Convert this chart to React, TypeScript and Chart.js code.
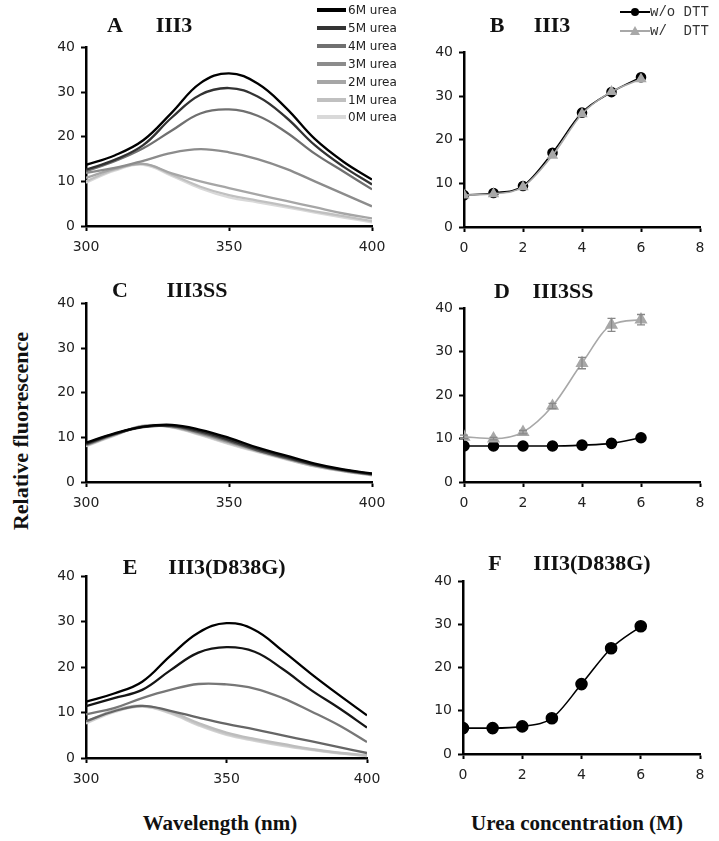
import React, { useEffect, useRef } from "react";
import { Chart, registerables } from "chart.js";
Chart.register(...registerables);

// ---------- data ----------
const wavelengths = [300, 310, 320, 330, 340, 350, 360, 370, 380, 390, 400];
const ureaNames = ["6M urea", "5M urea", "4M urea", "3M urea", "2M urea", "1M urea", "0M urea"];
const ureaConc = [0, 1, 2, 3, 4, 5, 6];

// Panel A (III3) spectra
const a6M = [13.7, 15.8, 19.2, 25.4, 32.0, 34.2, 31.9, 26.4, 19.5, 14.4, 10.4];
const a5M = [12.6, 14.8, 18.1, 24.3, 29.4, 30.9, 29.0, 24.3, 18.1, 13.3, 9.3];
const a4M = [12.3, 14.5, 17.4, 21.4, 25.2, 26.1, 24.7, 21.0, 16.2, 12.2, 8.2];
const a3M = [11.9, 13.0, 14.6, 16.4, 17.2, 16.5, 15.0, 12.8, 10.0, 7.2, 4.4];
const a2M = [10.8, 12.8, 13.9, 11.8, 10.0, 8.5, 7.0, 5.6, 4.2, 2.8, 1.7];
const a1M = [10.0, 12.6, 13.9, 11.5, 8.8, 6.9, 5.7, 4.5, 3.3, 2.2, 1.1];
const a0M = [9.7, 12.4, 13.7, 11.2, 8.4, 6.4, 5.3, 4.2, 3.0, 1.9, 0.8];

// Panel C (III3SS) spectra
const c6M = [8.8, 10.9, 12.4, 12.8, 11.7, 9.9, 7.7, 5.9, 4.1, 2.8, 1.9];
const c5M = [8.6, 10.8, 12.3, 12.6, 11.4, 9.5, 7.4, 5.6, 3.9, 2.7, 1.8];
const c4M = [8.4, 10.7, 12.4, 12.5, 11.1, 9.2, 7.1, 5.4, 3.8, 2.6, 1.7];
const c3M = [8.3, 10.6, 12.5, 12.4, 10.9, 9.0, 7.0, 5.3, 3.7, 2.5, 1.6];
const c2M = [8.2, 10.5, 12.5, 12.3, 10.7, 8.8, 6.9, 5.2, 3.6, 2.5, 1.6];
const c1M = [8.1, 10.5, 12.6, 12.3, 10.6, 8.6, 6.8, 5.1, 3.5, 2.4, 1.5];
const c0M = [8.0, 10.4, 12.6, 12.2, 10.5, 8.5, 6.7, 5.0, 3.5, 2.4, 1.5];

// Panel E (III3(D838G)) spectra
const e6M = [12.4, 14.2, 16.8, 22.5, 27.6, 29.7, 28.2, 23.6, 18.6, 13.9, 9.4];
const e5M = [11.4, 13.2, 15.0, 19.3, 23.2, 24.4, 23.4, 19.6, 15.0, 11.0, 6.7];
const e4M = [9.6, 11.0, 13.2, 15.0, 16.3, 16.2, 15.3, 13.2, 10.3, 7.2, 3.5];
const e3M = [8.1, 10.3, 11.5, 10.4, 8.9, 7.5, 6.3, 5.0, 3.7, 2.4, 1.1];
const e2M = [8.0, 10.5, 11.5, 10.2, 7.7, 5.6, 4.2, 3.1, 2.0, 1.2, 0.6];
const e1M = [7.8, 10.3, 11.4, 10.0, 7.4, 5.3, 4.0, 2.9, 1.9, 1.1, 0.5];
const e0M = [7.6, 10.1, 11.3, 9.8, 7.2, 5.1, 3.8, 2.7, 1.8, 1.0, 0.4];

// Panel B (III3) urea titration
const bNoDTT = [7.3, 7.8, 9.4, 17.0, 26.2, 30.9, 34.3];
const bDTT = [7.3, 7.6, 9.2, 16.4, 25.9, 31.0, 33.9];

// Panel D (III3SS) urea titration
const dNoDTT = [8.3, 8.3, 8.3, 8.3, 8.5, 8.9, 10.2];
const dDTT = [10.4, 10.0, 11.5, 17.5, 27.4, 36.2, 37.4];
const dDTTErr = [0.4, 0.3, 0.4, 0.6, 1.3, 1.5, 1.2];

// Panel F (III3(D838G)) urea titration
const fNoDTT = [6.0, 6.0, 6.4, 8.3, 16.2, 24.5, 29.6];

// ---------- styling ----------
const paletteA = ["#000000", "#333333", "#707070", "#8c8c8c", "#a6a6a6", "#c0c0c0", "#d9d9d9"];
const paletteC = ["#000000", "#2a2a2a", "#555555", "#8a8a8a", "#b0b0b0", "#c8c8c8", "#dcdcdc"];
const paletteE = ["#000000", "#151515", "#777777", "#666666", "#bdbdbd", "#c8c8c8", "#d4d4d4"];

const tickFont = { family: "'DejaVu Sans', Verdana, sans-serif", size: 14 };
const serif = "'Liberation Serif', 'Times New Roman', serif";

function spectraSets(series: number[][], palette: string[]) {
  return series.map((s, i) => ({
    label: ureaNames[i],
    data: s.map((v, j) => ({ x: wavelengths[j], y: v })),
    borderColor: palette[i],
    borderWidth: 2.3,
    pointRadius: 0,
    tension: 0.4,
    fill: false,
  }));
}

function titrationSet(vals: number[], color: string, lineColor: string, style: string, r: number, extra: any = {}) {
  return {
    data: vals.map((v, j) => ({ x: ureaConc[j], y: v })),
    borderColor: lineColor,
    backgroundColor: color,
    pointBorderColor: color,
    pointBackgroundColor: color,
    pointStyle: style,
    pointRadius: r,
    borderWidth: 1.6,
    cubicInterpolationMode: "monotone" as const,
    fill: false,
    ...extra,
  };
}

const errorBarPlugin = {
  id: "errorBars",
  afterDatasetsDraw(chart: any) {
    const ctx = chart.ctx;
    const xs = chart.scales.x;
    const ys = chart.scales.y;
    chart.data.datasets.forEach((ds: any) => {
      if (!ds.errors) return;
      ctx.save();
      ctx.strokeStyle = ds.errorColor || "#888";
      ctx.lineWidth = 1.3;
      ds.data.forEach((p: any, i: number) => {
        const e = ds.errors[i];
        if (!e) return;
        const x = xs.getPixelForValue(p.x);
        const y1 = ys.getPixelForValue(p.y + e);
        const y2 = ys.getPixelForValue(p.y - e);
        ctx.beginPath();
        ctx.moveTo(x, y1);
        ctx.lineTo(x, y2);
        ctx.moveTo(x - 4, y1);
        ctx.lineTo(x + 4, y1);
        ctx.moveTo(x - 4, y2);
        ctx.lineTo(x + 4, y2);
        ctx.stroke();
      });
      ctx.restore();
    });
  },
};

type Area = { left: number; top: number; right: number; bottom: number };

const PAD_L = 50, PAD_T = 10, PAD_R = 22, PAD_B = 32;

function Panel({ area, datasets, xMin, xMax, xStep }: { area: Area; datasets: any[]; xMin: number; xMax: number; xStep: number }) {
  const ref = useRef<HTMLCanvasElement>(null);
  const w = area.right - area.left + PAD_L + PAD_R;
  const h = area.bottom - area.top + PAD_T + PAD_B;
  useEffect(() => {
    const axisCommon = {
      grid: { display: true, drawOnChartArea: false, drawTicks: true, tickLength: 5, tickWidth: 2, tickColor: "#000" },
      border: { display: true, color: "#000", width: 2.5 },
    };
    const chart = new Chart(ref.current as HTMLCanvasElement, {
      type: "line",
      data: { datasets },
      options: {
        animation: false,
        responsive: false,
        devicePixelRatio: 1,
        layout: { padding: { left: 0, top: PAD_T, right: PAD_R, bottom: 0 } },
        plugins: { legend: { display: false }, tooltip: { enabled: false }, title: { display: false } },
        scales: {
          x: {
            type: "linear",
            min: xMin,
            max: xMax,
            ...axisCommon,
            ticks: { stepSize: xStep, font: tickFont, color: "#222", padding: 8, maxRotation: 0 },
            afterFit: (s: any) => { s.height = PAD_B; },
          },
          y: {
            type: "linear",
            min: 0,
            max: 40,
            ...axisCommon,
            ticks: { stepSize: 10, font: tickFont, color: "#222", padding: 6 },
            afterFit: (s: any) => { s.width = PAD_L; },
          },
        },
      } as any,
      plugins: [errorBarPlugin],
    });
    return () => chart.destroy();
  }, []);
  return (
    <canvas
      ref={ref}
      width={w}
      height={h}
      style={{ position: "absolute", left: area.left - PAD_L, top: area.top - PAD_T, width: w, height: h }}
    />
  );
}

function Txt({ x, y, children, style }: { x: number; y: number; children: any; style?: any }) {
  return (
    <div
      style={{
        position: "absolute",
        left: x,
        top: y,
        transform: "translate(-50%, -50%)",
        whiteSpace: "pre",
        lineHeight: 1,
        ...style,
      }}
    >
      {children}
    </div>
  );
}

const titleStyle = { fontFamily: serif, fontWeight: "bold", fontSize: 22, color: "#111" };
const axisTitleStyle = { fontFamily: serif, fontWeight: "bold", fontSize: 21, color: "#111" };

export default function App() {
  const setsA = spectraSets([a6M, a5M, a4M, a3M, a2M, a1M, a0M], paletteA);
  const setsC = spectraSets([c6M, c5M, c4M, c3M, c2M, c1M, c0M], paletteC);
  const setsE = spectraSets([e6M, e5M, e4M, e3M, e2M, e1M, e0M], paletteE);

  const setsB = [
    titrationSet(bDTT, "#a8a8a8", "#a8a8a8", "triangle", 5),
    titrationSet(bNoDTT, "#000", "#000", "circle", 4.5),
  ];
  const setsD = [
    titrationSet(dDTT, "#a8a8a8", "#a8a8a8", "triangle", 6, { errors: dDTTErr, errorColor: "#888" }),
    titrationSet(dNoDTT, "#000", "#000", "circle", 5),
  ];
  const setsF = [titrationSet(fNoDTT, "#000", "#000", "circle", 5.5)];

  return (
    <div style={{ position: "absolute", left: 0, top: 0, width: 719, height: 841, background: "#fff", overflow: "hidden" }}>
      <Panel area={{ left: 86, top: 43, right: 372, bottom: 226 }} datasets={setsA} xMin={300} xMax={400} xStep={50} />
      <Panel area={{ left: 464, top: 48, right: 700, bottom: 227 }} datasets={setsB} xMin={0} xMax={8} xStep={2} />
      <Panel area={{ left: 86, top: 299, right: 372, bottom: 482 }} datasets={setsC} xMin={300} xMax={400} xStep={50} />
      <Panel area={{ left: 464, top: 304, right: 700, bottom: 482 }} datasets={setsD} xMin={0} xMax={8} xStep={2} />
      <Panel area={{ left: 86, top: 572, right: 367, bottom: 758 }} datasets={setsE} xMin={300} xMax={400} xStep={50} />
      <Panel area={{ left: 463, top: 577, right: 700, bottom: 754 }} datasets={setsF} xMin={0} xMax={8} xStep={2} />

      {/* panel titles */}
      <Txt x={115} y={25} style={titleStyle}>A</Txt>
      <Txt x={174} y={25} style={titleStyle}>III3</Txt>
      <Txt x={497} y={25} style={titleStyle}>B</Txt>
      <Txt x={552} y={25} style={titleStyle}>III3</Txt>
      <Txt x={120} y={290} style={titleStyle}>C</Txt>
      <Txt x={197} y={290} style={titleStyle}>III3SS</Txt>
      <Txt x={502} y={291} style={titleStyle}>D</Txt>
      <Txt x={563} y={291} style={titleStyle}>III3SS</Txt>
      <Txt x={130} y={567} style={titleStyle}>E</Txt>
      <Txt x={227} y={567} style={titleStyle}>III3(D838G)</Txt>
      <Txt x={495} y={563} style={titleStyle}>F</Txt>
      <Txt x={592} y={563} style={titleStyle}>III3(D838G)</Txt>

      {/* legend A */}
      {ureaNames.map((n, i) => (
        <div key={n} style={{ position: "absolute", left: 317, top: 10 + i * 17.9 - 7, height: 14, display: "flex", alignItems: "center" }}>
          <div style={{ width: 29, height: 4, background: paletteA[i] }} />
          <div style={{ marginLeft: 2, fontFamily: "'DejaVu Sans', sans-serif", fontSize: 12, color: "#222", whiteSpace: "pre" }}>{n}</div>
        </div>
      ))}

      {/* legend B */}
      {[
        { t: "w/o DTT", c: "#000", m: "circle" },
        { t: "w/  DTT", c: "#a8a8a8", m: "triangle" },
      ].map((r, i) => (
        <div key={r.t} style={{ position: "absolute", left: 620, top: 12 + i * 19 - 8, height: 16, display: "flex", alignItems: "center" }}>
          <div style={{ position: "relative", width: 30, height: 16 }}>
            <div style={{ position: "absolute", left: 0, top: 7, width: 30, height: 2, background: r.c }} />
            {r.m === "circle" ? (
              <div style={{ position: "absolute", left: 11, top: 4, width: 8, height: 8, borderRadius: 4, background: r.c }} />
            ) : (
              <div style={{ position: "absolute", left: 10, top: 3, width: 0, height: 0, borderLeft: "5px solid transparent", borderRight: "5px solid transparent", borderBottom: "9px solid " + r.c }} />
            )}
          </div>
          <div style={{ fontFamily: "'Liberation Mono', 'Courier New', monospace", fontSize: 14, color: "#333", whiteSpace: "pre" }}>{r.t}</div>
        </div>
      ))}

      {/* axis titles */}
      <Txt x={21} y={431} style={{ ...axisTitleStyle, fontSize: 22, transform: "translate(-50%, -50%) rotate(-90deg)" }}>Relative fluorescence</Txt>
      <Txt x={220} y={823} style={axisTitleStyle}>Wavelength (nm)</Txt>
      <Txt x={577} y={823} style={axisTitleStyle}>Urea concentration (M)</Txt>
    </div>
  );
}
